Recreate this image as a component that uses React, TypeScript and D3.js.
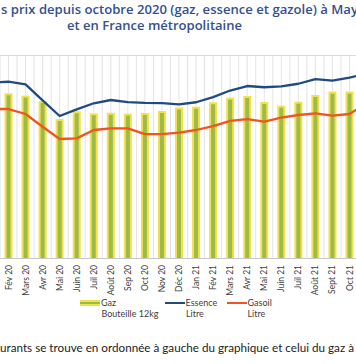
import React from "react";
import * as d3 from "d3";

const months = ["Jan 20","Fév 20","Mars 20","Avr 20","Mai 20","Juin 20","Juil 20","Août 20","Sep 20","Oct 20","Nov 20","Déc 20","Jan 21","Fév 21","Mars 21","Avr 21","Mai 21","Juin 21","Juil 21","Août 21","Sept 21","Oct 21","Nov 21"];
const gaz = [24.3,24.34,23.99,23.2,20.54,21.68,21.38,21.47,21.33,21.43,21.72,22.24,22.36,23.01,23.69,23.94,23.05,22.51,23.1,24.09,24.58,24.58,25.0];
const essence = [1.556,1.563,1.54,1.397,1.259,1.318,1.372,1.401,1.383,1.376,1.373,1.363,1.381,1.426,1.485,1.525,1.514,1.521,1.545,1.587,1.572,1.6,1.632];
const gasoil = [1.321,1.321,1.277,1.164,1.055,1.061,1.135,1.15,1.15,1.099,1.099,1.111,1.135,1.17,1.215,1.232,1.209,1.244,1.268,1.283,1.262,1.277,1.374];

const W = 356, H = 364;
const TOP = 55, BOTTOM = 258;

export default function App() {
  const x = d3.scaleBand<string>().domain(months).range([-17.075, 375.075]).padding(0);
  const step = x.step();
  const cx = (m: string) => (x(m) as number) + step / 2;
  const yFuel = d3.scaleLinear().domain([0, 1.8]).range([BOTTOM, TOP]);
  const yGas = d3.scaleLinear().domain([0, 30]).range([BOTTOM, TOP]);

  const lineE = d3.line<number>().x((_, i) => cx(months[i])).y((d) => yFuel(d));
  const grid: number[] = [];
  for (let i = 0; i <= months.length * 2; i++) grid.push((x(months[0]) as number) + (i * step) / 2);

  const visibleLabels = months.filter((m) => cx(m) > 0 && cx(m) < W);

  const textFont = "Lato, 'Noto Sans', sans-serif";
  return (
    <svg width={W} height={H} style={{ position: "absolute", left: 0, top: 0, background: "#fff" }}>
      <text x={1} y={13.5} fontFamily="'Open Sans', sans-serif" fontWeight={600} fontSize={12} fill="#34508f" textLength={357} lengthAdjust="spacingAndGlyphs">s prix depuis octobre 2020 (gaz, essence et gazole) à May</text>
      <text x={67} y={29.5} fontFamily="'Open Sans', sans-serif" fontWeight={600} fontSize={12} fill="#34508f" textLength={175} lengthAdjust="spacingAndGlyphs">et en France métropolitaine</text>

      {grid.map((g, i) => (
        <line key={i} x1={g} x2={g} y1={TOP} y2={BOTTOM} stroke="#e3e3e3" strokeWidth={1} />
      ))}
      <line x1={0} x2={W} y1={TOP + 0.5} y2={TOP + 0.5} stroke="#d9d9d9" />

      {months.map((m, i) => {
        const c = cx(m);
        const yt = yGas(gaz[i]);
        return (
          <g key={m}>
            <rect x={c - 4} y={yt} width={8} height={BOTTOM - yt} fill="#f0e24c" />
            <rect x={c - 2} y={yt + 2} width={4} height={BOTTOM - yt - 2} fill="#9dba4a" />
          </g>
        );
      })}
      <line x1={0} x2={W} y1={BOTTOM + 0.5} y2={BOTTOM + 0.5} stroke="#c8c8c8" />

      <path d={lineE(essence) || ""} fill="none" stroke="#1f4a85" strokeWidth={2.3} strokeLinejoin="round" />
      <path d={lineE(gasoil) || ""} fill="none" stroke="#f2531f" strokeWidth={2.3} strokeLinejoin="round" />

      {visibleLabels.map((m) => (
        <text key={"l" + m} transform={`translate(${cx(m) + 3},265) rotate(-90)`} textAnchor="end" fontFamily={textFont} fontSize={8.5} fill="#404040">{m}</text>
      ))}

      <rect x={80} y={300} width={20} height={6} fill="#f0e24c" />
      <rect x={80} y={302} width={20} height={2} fill="#9dba4a" />
      <text x={101} y={306} fontFamily={textFont} fontSize={9} fill="#404040">Gaz</text>
      <text x={101.5} y={317} fontFamily={textFont} fontSize={9} fill="#404040">Bouteille 12kg</text>

      <line x1={165} x2={185} y1={303} y2={303} stroke="#1f4a85" strokeWidth={2} />
      <text x={185.5} y={306} fontFamily={textFont} fontSize={9} fill="#404040">Essence</text>
      <text x={186} y={317} fontFamily={textFont} fontSize={9} fill="#404040">Litre</text>

      <line x1={227} x2={247} y1={303} y2={303} stroke="#f2531f" strokeWidth={2} />
      <text x={247.5} y={306} fontFamily={textFont} fontSize={9} fill="#404040">Gasoil</text>
      <text x={247.5} y={317} fontFamily={textFont} fontSize={9} fill="#404040">Litre</text>

      <text x={0} y={352} fontFamily={textFont} fontSize={11.5} fill="#222" textLength={354} lengthAdjust="spacingAndGlyphs">urants se trouve en ordonnée à gauche du graphique et celui du gaz à</text>
    </svg>
  );
}
